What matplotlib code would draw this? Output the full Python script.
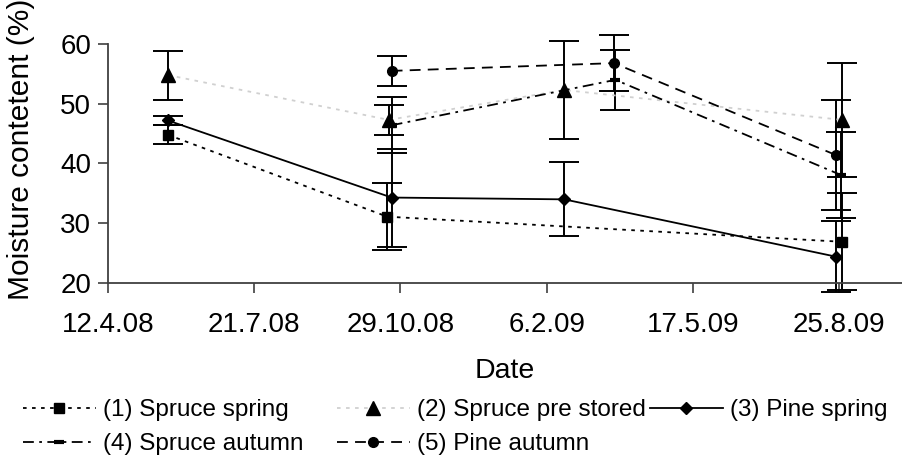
import datetime as dt
import matplotlib
matplotlib.use("Agg")
import matplotlib.pyplot as plt
import matplotlib.dates as mdates
from matplotlib.ticker import FuncFormatter

plt.rcParams['font.family'] = ['Liberation Sans', 'DejaVu Sans']

# data (moisture content %, error = half-height of bar)
spruce_spring_dates = ['2008-05-23', '2008-10-20', '2009-08-27']
spruce_spring = [44.8, 31.1, 26.9]
spruce_spring_err = [1.6, 5.6, 8.1]

spruce_pre_dates = ['2008-05-23', '2008-10-21', '2009-02-18', '2009-08-27']
spruce_pre = [54.8, 47.3, 52.3, 47.3]
spruce_pre_err = [4.1, 2.5, 8.2, 9.6]

pine_spring_dates = ['2008-05-23', '2008-10-23', '2009-02-18', '2009-08-23']
pine_spring = [47.2, 34.3, 34.0, 24.4]
pine_spring_err = [0.7, 8.2, 6.2, 5.9]

spruce_autumn_dates = ['2008-10-23', '2009-03-25', '2009-08-26']
spruce_autumn = [46.4, 54.0, 38.1]
spruce_autumn_err = [4.7, 5.0, 7.2]

pine_autumn_dates = ['2008-10-23', '2009-03-24', '2009-08-23']
pine_autumn = [55.5, 56.8, 41.4]
pine_autumn_err = [2.5, 4.7, 9.2]

labels = ['(1) Spruce spring', '(2) Spruce pre stored', '(3) Pine spring',
          '(4) Spruce autumn', '(5) Pine autumn']


def to_dates(lst):
    return [dt.datetime.strptime(s, '%Y-%m-%d') for s in lst]


series = [
    (spruce_spring_dates, spruce_spring, spruce_spring_err,
     dict(color='black', dashes=(2, 3), marker='s', ms=7.5)),
    (spruce_pre_dates, spruce_pre, spruce_pre_err,
     dict(color='#d0d0d0', dashes=(2, 3), marker='^', ms=9.5,
          mfc='black', mec='black')),
    (pine_spring_dates, pine_spring, pine_spring_err,
     dict(color='black', linestyle='-', marker='D', ms=6.5)),
    (spruce_autumn_dates, spruce_autumn, spruce_autumn_err,
     dict(color='black', dashes=(6, 3, 1.5, 3), marker='_', ms=7, mew=3)),
    (pine_autumn_dates, pine_autumn, pine_autumn_err,
     dict(color='black', dashes=(6, 4), marker='o', ms=7)),
]

fig = plt.figure(figsize=(9.02, 4.59), dpi=100)
ax = fig.add_axes([108 / 902, 1 - 283 / 459, 794 / 902, 239 / 459])

handles = []
for (d, v, e, style), lab in zip(series, labels):
    x = to_dates(d)
    ax.errorbar(x, v, yerr=e, fmt='none', ecolor='black', elinewidth=1.4,
                capsize=10.5, capthick=1.4, clip_on=False, zorder=2)
    line, = ax.plot(x, v, lw=1.3, label=lab, zorder=3, **style)
    handles.append(line)

start = dt.datetime(2008, 4, 12)
ax.set_xlim(start, start + dt.timedelta(days=543))
ax.set_ylim(20, 60)
ax.set_yticks([20, 30, 40, 50, 60])
ax.set_xticks([start + dt.timedelta(days=100 * i) for i in range(6)])
ax.xaxis.set_major_formatter(FuncFormatter(
    lambda v, p: (lambda d: f"{d.day}.{d.month}.{d:%y}")(mdates.num2date(v))))

for s in ['top', 'right']:
    ax.spines[s].set_visible(False)
for s in ['left', 'bottom']:
    ax.spines[s].set_color('#404040')
    ax.spines[s].set_linewidth(1.3)
ax.tick_params(axis='both', direction='out', length=7, width=1.2,
               color='#404040', labelsize=20)
ax.tick_params(axis='x', pad=14)
ax.tick_params(axis='y', pad=5)

ax.set_xlabel('Date', fontsize=20.5, labelpad=14)
ax.set_ylabel('Moisture contetent (%)', fontsize=21.5)
ax.yaxis.set_label_coords(-0.092, 0.56)

# Excel-style legend: equal-width columns, filled row by row
col_x = [23, 337, 650]
cols = [[0, 3], [1, 4], [2]]
for cx, idx in zip(col_x, cols):
    fig.legend([handles[i] for i in idx], [labels[i] for i in idx],
               loc='upper left', bbox_to_anchor=(cx / 902, 1 - 399 / 459),
               frameon=False, fontsize=17.5, borderpad=0, borderaxespad=0,
               handlelength=3.0, handletextpad=0.3, labelspacing=0.5,
               numpoints=1)

fig.savefig('out.png', dpi=100)
